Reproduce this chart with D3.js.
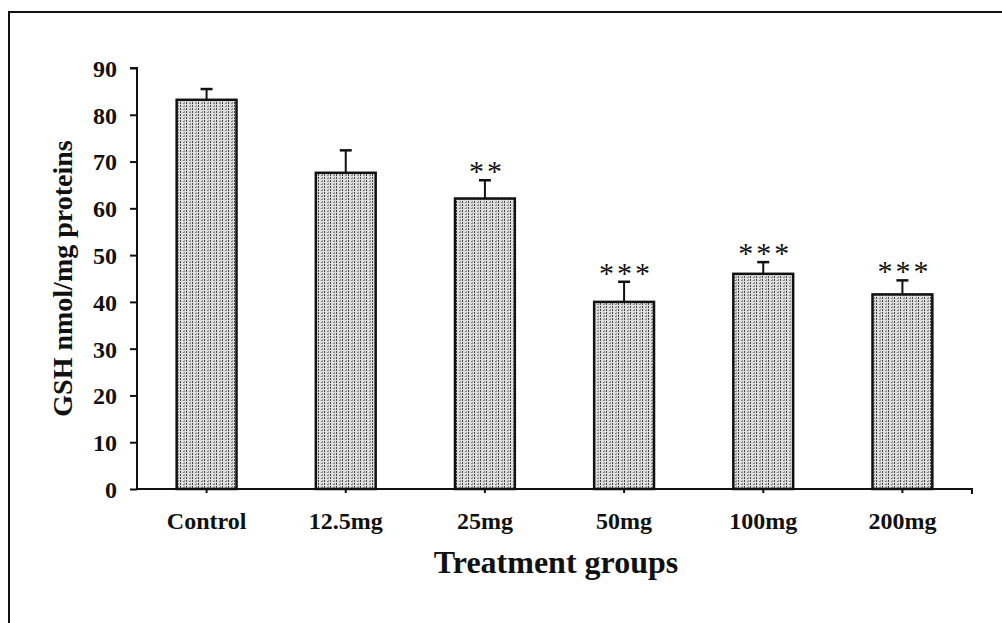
<!DOCTYPE html>
<html>
<head>
<meta charset="utf-8">
<script src="https://cdn.jsdelivr.net/npm/d3@7"></script>
<style>
  body { margin: 0; background: #fff; }
  text { font-family: "Liberation Serif", "Times New Roman", serif; font-weight: bold; fill: #111; }
</style>
</head>
<body>
<div id="content"></div>
<script>
var groups = ["Control", "12.5mg", "25mg", "50mg", "100mg", "200mg"];
var means = [83.2, 67.6, 62.1, 40.0, 46.0, 41.6];
var errors = [2.3, 4.8, 3.9, 4.3, 2.5, 3.0];
var stars = ["", "", "**", "***", "***", "***"];
var yTicks = [0, 10, 20, 30, 40, 50, 60, 70, 80, 90];

var W = 1002, H = 623;
var plot = {l: 137, r: 972, t: 68, b: 489};

var svg = d3.select("#content")
            .append("svg")
            .attr("width", W)
            .attr("height", H);

// dotted grey fill like the original hatch
var defs = svg.append("defs");
var pat = defs.append("pattern")
              .attr("id", "dots")
              .attr("patternUnits", "userSpaceOnUse")
              .attr("width", 6)
              .attr("height", 3);
pat.append("rect").attr("width", 6).attr("height", 3).attr("fill", "#dedede");
pat.append("rect").attr("x", 0).attr("y", 0).attr("width", 1).attr("height", 2).attr("fill", "#444");
pat.append("rect").attr("x", 3).attr("y", 1).attr("width", 1).attr("height", 1).attr("fill", "#777");
pat.append("rect").attr("x", 4).attr("y", 0).attr("width", 1).attr("height", 2).attr("fill", "#999");

// outer frame (runs past the right and bottom edge)
svg.append("rect")
   .attr("x", 9).attr("y", 12)
   .attr("width", W + 20).attr("height", H + 20)
   .attr("fill", "none")
   .attr("stroke", "#111")
   .attr("stroke-width", 2);

var x = d3.scaleBand().domain(groups).range([plot.l, plot.r]).paddingInner(0.57).paddingOuter(0.285);
var y = d3.scaleLinear().domain([0, 90]).range([plot.b, plot.t]);

var axisY = d3.axisLeft(y).tickValues(yTicks).tickSize(7).tickPadding(13);
var yG = svg.append("g")
            .attr("transform", "translate(" + plot.l + ",0)")
            .call(axisY);
yG.select(".domain").attr("stroke", "#111").attr("stroke-width", 2).attr("d", "M-7," + y(90) + "H0V" + y(0));
yG.selectAll(".tick line").attr("stroke", "#111").attr("stroke-width", 2);
yG.selectAll(".tick text").attr("font-size", 24).attr("font-family", null).attr("dy", "0.35em");

var axisX = d3.axisBottom(x).tickSize(4).tickPadding(19);
var xG = svg.append("g")
            .attr("transform", "translate(0," + plot.b + ")")
            .call(axisX);
xG.select(".domain").attr("stroke", "#111").attr("stroke-width", 2)
  .attr("d", "M" + plot.l + ",0H" + plot.r + "V5");
xG.selectAll(".tick line").attr("stroke", "#111").attr("stroke-width", 2);
xG.selectAll(".tick text").attr("font-size", 24).attr("font-family", null);

var bars = svg.append("g")
              .selectAll("g")
              .data(groups)
              .enter()
              .append("g");

bars.append("line")
    .attr("x1", function(d) { return x(d) + x.bandwidth() / 2; })
    .attr("x2", function(d) { return x(d) + x.bandwidth() / 2; })
    .attr("y1", function(d, i) { return y(means[i]); })
    .attr("y2", function(d, i) { return y(means[i] + errors[i]); })
    .attr("stroke", "#111").attr("stroke-width", 2);
bars.append("line")
    .attr("x1", function(d) { return x(d) + x.bandwidth() / 2 - 6; })
    .attr("x2", function(d) { return x(d) + x.bandwidth() / 2 + 6; })
    .attr("y1", function(d, i) { return y(means[i] + errors[i]); })
    .attr("y2", function(d, i) { return y(means[i] + errors[i]); })
    .attr("stroke", "#111").attr("stroke-width", 2.5);

bars.append("rect")
    .attr("x", function(d) { return x(d); })
    .attr("y", function(d, i) { return y(means[i]); })
    .attr("width", x.bandwidth())
    .attr("height", function(d, i) { return y(0) - y(means[i]); })
    .attr("fill", "url(#dots)")
    .attr("stroke", "#111")
    .attr("stroke-width", 2.5);

bars.append("text")
    .attr("x", function(d) { return x(d) + x.bandwidth() / 2 + 2; })
    .attr("y", function(d, i) { return y(means[i] + errors[i]) + 1; })
    .attr("text-anchor", "middle")
    .attr("font-size", 30)
    .attr("letter-spacing", 3)
    .style("font-weight", "normal")
    .text(function(d, i) { return stars[i]; });

svg.append("text")
   .attr("x", 556)
   .attr("y", 573)
   .attr("text-anchor", "middle")
   .attr("font-size", 32)
   .text("Treatment groups");

svg.append("text")
   .attr("transform", "translate(72," + ((plot.t + plot.b) / 2) + ") rotate(-90)")
   .attr("text-anchor", "middle")
   .attr("font-size", 28)
   .text("GSH nmol/mg proteins");
</script>
</body>
</html>
